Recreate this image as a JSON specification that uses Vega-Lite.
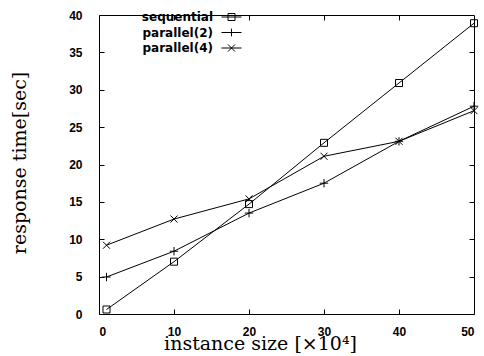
{
  "$schema": "https://vega.github.io/schema/vega-lite/v6.json",
  "width": 375,
  "height": 299,
  "autosize": "none",
  "padding": {"left": 99, "top": 15, "right": 10, "bottom": 42},
  "background": "white",
  "config": {
    "view": {"stroke": "black", "strokeWidth": 1},
    "axis": {
      "grid": false,
      "domain": false,
      "tickColor": "black",
      "tickWidth": 1,
      "tickSize": -5,
      "labelFont": "Liberation Sans",
      "labelFontSize": 12,
      "labelFontWeight": "bold",
      "labelColor": "black",
      "titleFont": "DejaVu Serif",
      "titleFontSize": 19,
      "titleFontWeight": "normal",
      "titleColor": "black"
    }
  },
  "data": {
    "values": [
      {"series": "sequential", "x": 1, "y": 0.6},
      {"series": "sequential", "x": 10, "y": 7.0},
      {"series": "sequential", "x": 20, "y": 14.7},
      {"series": "sequential", "x": 30, "y": 22.9},
      {"series": "sequential", "x": 40, "y": 30.9},
      {"series": "sequential", "x": 50, "y": 38.9},
      {"series": "parallel(2)", "x": 1, "y": 4.95},
      {"series": "parallel(2)", "x": 10, "y": 8.4},
      {"series": "parallel(2)", "x": 20, "y": 13.5},
      {"series": "parallel(2)", "x": 30, "y": 17.5},
      {"series": "parallel(2)", "x": 40, "y": 23.1},
      {"series": "parallel(2)", "x": 50, "y": 27.8},
      {"series": "parallel(4)", "x": 1, "y": 9.2},
      {"series": "parallel(4)", "x": 10, "y": 12.7},
      {"series": "parallel(4)", "x": 20, "y": 15.4},
      {"series": "parallel(4)", "x": 30, "y": 21.1},
      {"series": "parallel(4)", "x": 40, "y": 23.1},
      {"series": "parallel(4)", "x": 50, "y": 27.2}
    ]
  },
  "layer": [
    {
      "mark": {"type": "line", "color": "black", "strokeWidth": 1},
      "encoding": {
        "x": {
          "field": "x", "type": "quantitative",
          "scale": {"domain": [0, 50], "nice": false},
          "axis": {
            "orient": "bottom",
            "values": [0, 10, 20, 30, 40, 50],
            "labelPadding": 17,
            "labelBaseline": "top",
            "title": "instance size [×10⁴]",
            "titleX": 161,
            "titleY": 35,
            "titleAlign": "center",
            "titleBaseline": "alphabetic"
          }
        },
        "y": {
          "field": "y", "type": "quantitative",
          "scale": {"domain": [0, 40], "nice": false},
          "axis": {
            "orient": "left",
            "values": [0, 5, 10, 15, 20, 25, 30, 35, 40],
            "labelPadding": 22,
            "title": "response time[sec]",
            "titleX": -74,
            "titleY": 147.5,
            "titleAngle": 270,
            "titleAlign": "center",
            "titleBaseline": "alphabetic"
          }
        },
        "detail": {"field": "series"}
      }
    },
    {
      "mark": {"type": "point", "filled": false, "stroke": "black", "strokeWidth": 1, "size": 49, "opacity": 1},
      "encoding": {
        "x": {
          "field": "x", "type": "quantitative",
          "axis": {"orient": "top", "values": [10, 20, 30, 40], "labels": false, "title": null}
        },
        "y": {
          "field": "y", "type": "quantitative",
          "axis": {"orient": "right", "values": [5, 10, 15, 20, 25, 30, 35], "labels": false, "title": null}
        },
        "shape": {
          "field": "series",
          "scale": {
            "domain": ["sequential", "parallel(2)", "parallel(4)"],
            "range": ["M-1,-1H1V1H-1Z", "M-1.2,0H1.2M0,-1.2V1.2", "M-1,-1L1,1M-1,1L1,-1"]
          },
          "legend": null
        }
      }
    },
    {
      "mark": {"type": "point", "filled": false, "stroke": "black", "strokeWidth": 1, "size": 49, "opacity": 0},
      "encoding": {
        "x": {"field": "x", "type": "quantitative", "axis": null},
        "y": {"field": "y", "type": "quantitative", "axis": null},
        "shape": {
          "field": "series",
          "scale": {
            "domain": ["sequential", "parallel(2)", "parallel(4)"],
            "range": [
              "M-2.86,0H2.86M-1,-1H1V1H-1Z",
              "M-2.86,0H2.86M0,-1.1V1.1",
              "M-2.86,0H2.86M-1,-1L1,1M-1,1L1,-1"
            ]
          },
          "legend": {
            "orient": "none",
            "legendX": 126.5,
            "legendY": -4,
            "title": null,
            "padding": 0,
            "rowPadding": 3.5,
            "labelAlign": "right",
            "labelOffset": -24.5,
            "labelFont": "DejaVu Sans",
            "labelFontWeight": "bold",
            "labelFontSize": 12,
            "labelColor": "black",
            "symbolSize": 49,
            "symbolStrokeColor": "black",
            "symbolStrokeWidth": 1,
            "symbolOpacity": 1,
            "symbolFillColor": "transparent"
          }
        }
      }
    }
  ],
  "resolve": {
    "scale": {"shape": "independent"},
    "axis": {"x": "independent", "y": "independent"},
    "legend": {"shape": "independent"}
  }
}
